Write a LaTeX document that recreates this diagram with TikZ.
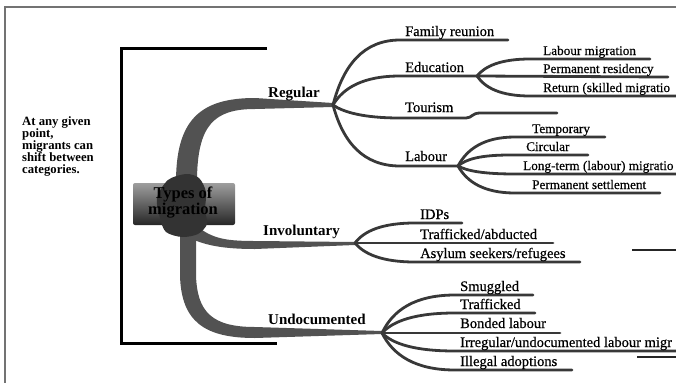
\documentclass[tikz,border=0pt]{standalone}
\usepackage{fontspec}
\setmainfont{Liberation Serif}
\newfontfamily\labfont[FakeBold=0.6]{Liberation Serif}
\begin{document}
\begin{tikzpicture}[x=1pt,y=-1pt,
  frame/.style={draw=black!55,line width=1.3pt},
  bracket/.style={draw=black,line width=3pt},
  trunk/.style={fill=black!68},
  twig/.style={draw=black!78,line width=2.8pt,line cap=round},
  lab/.style={anchor=base west,inner sep=0pt,font=\labfont\fontsize{14.5}{16}\selectfont},
  sublab/.style={anchor=base west,inner sep=0pt,font=\labfont\fontsize{13.2}{15}\selectfont},
  mainlab/.style={anchor=base west,inner sep=0pt,font=\bfseries\fontsize{15}{17}\selectfont},
  stray/.style={draw=black!85,line width=2.4pt}]
\useasboundingbox (0,0) rectangle (676,383);
\clip (0,0) rectangle (676,383);
% frame
\coordinate (fa) at (5,7); \coordinate (fb) at (676,7); \coordinate (fc) at (5,383);
\draw[frame] (fb) -- (fa) -- (fc);
% bracket
\coordinate (ba) at (267,48); \coordinate (bb) at (121,48);
\coordinate (bc) at (121,343); \coordinate (bd) at (277,343);
\draw[bracket] (ba) -- (bb) -- (bc) -- (bd);
% note
\node[anchor=north west,inner sep=0pt,align=left,font=\bfseries\fontsize{12.7}{12}\selectfont] (note) at (22,116)
  {At any given\\point,\\migrants can\\shift between\\categories.};
% fork points
\coordinate (F1) at (333,105);
\coordinate (F2) at (477,76);
\coordinate (F3) at (458,166);
\coordinate (F4) at (355,243);
\coordinate (F5) at (382,333);
% trunks
\path[trunk] (176,182) .. controls (176,120) and (200,98) .. (255,98) -- (333,103) -- (333,107)
  -- (255,109) .. controls (214,109) and (197,125) .. (197,182) -- cycle;
\path[trunk] (192,222) .. controls (210,238) and (222,241) .. (255,241) -- (355,242) -- (355,245)
  -- (255,249) .. controls (215,249) and (200,243) .. (185,236) -- cycle;
\path[trunk] (180,225) -- (180,275) .. controls (181,322) and (205,338) .. (255,338) -- (382,334)
  -- (382,331) -- (255,327) .. controls (212,327) and (197,312) .. (196,275) -- (196,225) -- cycle;
% central box
\shade[top color=black!38,bottom color=black!85,rounded corners=2pt] (133,183) rectangle (235,225);
\fill[black!80] plot[smooth cycle] coordinates {(168,180) (186,174) (199,178) (206,192) (205,210) (207,224) (198,234) (182,237) (166,232) (160,218) (157,198)};
\node[align=center,inner sep=0pt,font=\bfseries\fontsize{16.5}{15}\selectfont] (types) at (183,203) {Types of\\migration};
% main labels
\node[mainlab] (reg) at (268,97) {Regular};
\node[mainlab] (inv) at (263,235) {Involuntary};
\node[mainlab] (und) at (268,324) {Undocumented};
% Regular branches
\coordinate (e1) at (508,40);
\draw[twig] (F1) .. controls (343,66) and (363,40) .. (400,40) -- (e1);
\draw[twig] (F1) .. controls (343,88) and (363,76) .. (400,76) -- (F2);
\coordinate (e3) at (557,113);
\draw[twig] (F1) .. controls (343,112) and (363,118) .. (400,118) -- (466,118) .. controls (472,118) and (472,113) .. (480,113) -- (e3);
\draw[twig] (F1) .. controls (343,142) and (363,166) .. (400,166) -- (F3);
\node[lab] (l1) at (405,36) {Family reunion};
\node[lab] (l2) at (405,72) {Education};
\node[lab] (l3) at (405,112) {Tourism};
\node[lab] (l4) at (405,161) {Labour};
% Education
\coordinate (e5) at (650,59); \coordinate (e6) at (668,77); \coordinate (e7) at (680,96);
\draw[twig] (F2) .. controls (485,66) and (501,59) .. (530,59) -- (e5);
\draw[twig] (F2) -- (e6);
\draw[twig] (F2) .. controls (485,88) and (501,96) .. (530,96) -- (e7);
\node[sublab] (l5) at (543,55) {Labour migration};
\node[sublab] (l6) at (543,73) {Permanent residency};
\node[sublab] (l7) at (543,92) {Return (skilled migratio};
% Labour
\coordinate (e8) at (605,137); \coordinate (e9) at (588,155);
\coordinate (e10) at (680,174); \coordinate (e11) at (660,193);
\draw[twig] (F3) .. controls (467,149) and (484,137) .. (515,137) -- (e8);
\draw[twig] (F3) .. controls (466,159) and (481,155) .. (510,155) -- (e9);
\draw[twig] (F3) .. controls (467,171) and (484,174) .. (515,174) -- (e10);
\draw[twig] (F3) .. controls (467,182) and (484,193) .. (515,193) -- (e11);
\node[sublab] (l8) at (532,133) {Temporary};
\node[sublab] (l9) at (526,151) {Circular};
\node[sublab] (l10) at (523,170) {Long-term (labour) migratio};
\node[sublab] (l11) at (532,189) {Permanent settlement};
% Involuntary
\coordinate (e12) at (462,223); \coordinate (e13) at (553,243); \coordinate (e14) at (580,262);
\draw[twig] (F4) .. controls (364,231) and (382,223) .. (415,223) -- (e12);
\draw[twig] (F4) -- (e13);
\draw[twig] (F4) .. controls (364,254) and (382,262) .. (415,262) -- (e14);
\node[lab] (l12) at (420,219) {IDPs};
\node[lab] (l13) at (420,239) {Trafficked/abducted};
\node[lab] (l14) at (420,258) {Asylum seekers/refugees};
% Undocumented
\coordinate (e15) at (533,295); \coordinate (e16) at (535,313); \coordinate (e17) at (560,333);
\coordinate (e18) at (680,351); \coordinate (e19) at (572,370);
\draw[twig] (F5) .. controls (393,310) and (415,295) .. (455,295) -- (e15);
\draw[twig] (F5) .. controls (393,321) and (415,313) .. (455,313) -- (e16);
\draw[twig] (F5) -- (e17);
\draw[twig] (F5) .. controls (393,344) and (415,351) .. (455,351) -- (e18);
\draw[twig] (F5) .. controls (393,355) and (415,370) .. (455,370) -- (e19);
\node[lab] (l15) at (460,291) {Smuggled};
\node[lab] (l16) at (460,309) {Trafficked};
\node[lab] (l17) at (460,328) {Bonded labour};
\node[lab] (l18) at (460,347) {Irregular/undocumented labour migr};
\node[lab] (l19) at (460,366) {Illegal adoptions};
% stray lines
\coordinate (s1a) at (632,250); \coordinate (s1b) at (680,250);
\coordinate (s2a) at (637,357); \coordinate (s2b) at (680,357);
\draw[stray] (s1a) -- (s1b);
\draw[stray] (s2a) -- (s2b);
\end{tikzpicture}
\end{document}
